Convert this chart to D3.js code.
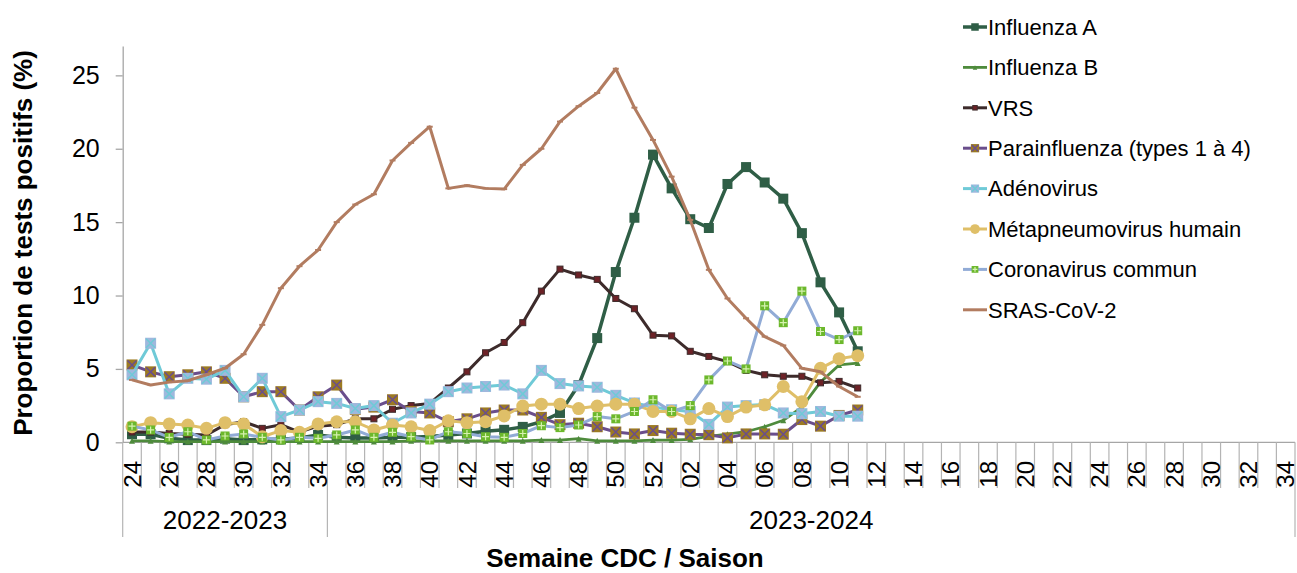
<!DOCTYPE html>
<html>
<head>
<meta charset="utf-8">
<script src="https://cdn.jsdelivr.net/npm/d3@7"></script>
<style>
	body { margin: 0; background: #fff; }
	svg { font-family: 'Liberation Sans', Arial, sans-serif; }
</style>
</head>
<body>
<div id="chart"></div>
<script>
// week labels per season
const weeks2223 = ['24', '25', '26', '27', '28', '29', '30', '31', '32', '33', '34']
const weeks2324 = ['35', '36', '37', '38', '39', '40', '41', '42', '43', '44', '45', '46', '47', '48', '49', '50', '51', '52',
	'01', '02', '03', '04', '05', '06', '07', '08', '09', '10', '11', '12', '13', '14', '15', '16', '17', '18', '19', '20',
	'21', '22', '23', '24', '25', '26', '27', '28', '29', '30', '31', '32', '33', '34']
const seasons = ['2022-2023', '2023-2024']
const yTicks = [0, 5, 10, 15, 20, 25]

// % positive, from week 24 (2022) to week 11 (2024)
const fluA = [0.55, 0.55, 0.27, 0.15, 0.15, 0.25, 0.15, 0.2, 0.2, 0.3, 0.5, 0.35, 0.3, 0.3, 0.35, 0.35, 0.4, 0.5, 0.6, 0.75,
	0.85, 1.05, 1.4, 2.0, 3.9, 7.1, 11.6, 15.3, 19.6, 17.3, 15.2, 14.6, 17.6, 18.75, 17.7, 16.6, 14.25, 10.9, 8.85, 6.2]
const fluB = [0.1, 0.1, 0.05, 0.05, 0.05, 0.05, 0.05, 0.05, 0.05, 0.05, 0.05, 0.05, 0.05, 0.05, 0.05, 0.1, 0.1, 0.1, 0.1, 0.1,
	0.1, 0.1, 0.15, 0.15, 0.25, 0.1, 0.1, 0.1, 0.15, 0.15, 0.2, 0.4, 0.55, 0.72, 1.06, 1.5, 2.4, 4.1, 5.27, 5.4]
const vrs = [0.7, 0.7, 0.6, 0.55, 0.5, 1.2, 1.4, 0.95, 1.2, 0.7, 1.1, 1.2, 1.6, 1.6, 2.25, 2.5, 2.65, 3.7, 4.8, 6.1,
	6.8, 8.15, 10.3, 11.8, 11.4, 11.1, 9.8, 9.1, 7.3, 7.25, 6.2, 5.85, 5.5, 4.9, 4.6, 4.5, 4.5, 4.05, 4.15, 3.7]
const para = [5.27, 4.8, 4.47, 4.6, 4.8, 4.36, 3.1, 3.45, 3.45, 2.2, 3.1, 3.9, 2.25, 2.4, 2.9, 2.1, 2.0, 1.4, 1.6, 2.0,
	2.2, 2.2, 1.7, 1.2, 1.3, 1.06, 0.7, 0.57, 0.8, 0.62, 0.55, 0.52, 0.3, 0.57, 0.57, 0.55, 1.55, 1.1, 1.83, 2.2]
const adeno = [4.6, 6.75, 3.3, 4.36, 4.3, 4.9, 3.1, 4.36, 1.75, 2.2, 2.77, 2.65, 2.3, 2.5, 1.3, 2.0, 2.6, 3.45, 3.7, 3.8,
	3.9, 3.3, 4.9, 4.0, 3.84, 3.75, 3.2, 2.68, 2.4, 2.22, 2.1, 1.22, 2.4, 2.5, 2.57, 2.0, 1.95, 2.1, 1.78, 1.78]
const hmpv = [1.06, 1.34, 1.25, 1.18, 0.95, 1.34, 1.25, 0.38, 0.8, 0.68, 1.25, 1.4, 1.4, 0.84, 1.18, 1.06, 0.8, 1.47, 1.34, 1.4,
	1.8, 2.47, 2.6, 2.6, 2.3, 2.47, 2.6, 2.6, 2.1, 2.1, 1.6, 2.3, 1.75, 2.4, 2.55, 3.8, 2.77, 5.04, 5.7, 5.9]
const cov = [1.1, 0.84, 0.34, 0.72, 0.16, 0.43, 0.57, 0.34, 0.16, 0.34, 0.27, 0.5, 0.84, 0.34, 0.68, 0.38, 0.16, 0.72, 0.6, 0.38,
	0.34, 0.6, 1.13, 1.0, 1.18, 1.75, 1.6, 2.1, 2.9, 2.1, 2.5, 4.25, 5.54, 5.0, 9.3, 8.15, 10.3, 7.55, 7.0, 7.6]
const sars = [4.25, 3.9, 4.1, 4.2, 4.6, 5.05, 6.0, 8.0, 10.5, 12.0, 13.1, 15.0, 16.2, 16.9, 19.2, 20.4, 21.5, 17.3, 17.5, 17.3,
	17.25, 18.9, 20.0, 21.85, 22.9, 23.8, 25.45, 22.8, 20.6, 18.1, 15.15, 11.75, 9.8, 8.45, 7.2, 6.6, 5.04, 4.8, 3.8, 3.1]

const seriesNames = ['Influenza A', 'Influenza B', 'VRS', 'Parainfluenza (types 1 à 4)', 'Adénovirus',
	'Métapneumovirus humain', 'Coronavirus commun', 'SRAS-CoV-2']
const seriesValues = [fluA, fluB, vrs, para, adeno, hmpv, cov, sars]

// line + marker styles, same order as the series
const styles = [
	{ line: '#2f5e46', width: 3.5, marker: 'square', size: 10, fill: '#2f5e46' },
	{ line: '#4e8b3c', width: 2.8, marker: 'triangle', size: 6, fill: '#4e8b3c' },
	{ line: '#3d2b2b', width: 3, marker: 'square', size: 6, fill: '#6d2227', stroke: '#3d2b2b' },
	{ line: '#6a4e8c', width: 3, marker: 'cross', size: 11, fill: '#9c7a22', mark: '#6a4e8c' },
	{ line: '#6fcad7', width: 3, marker: 'cross', size: 11, fill: '#9fb8dd', mark: '#6fcad7' },
	{ line: '#dfbf68', width: 3, marker: 'circle', size: 13, fill: '#dfbf68' },
	{ line: '#91abd6', width: 3, marker: 'plus', size: 9, fill: '#6cb82c', mark: '#d6f2b0' },
	{ line: '#b27c60', width: 3, marker: 'dash', size: 6, fill: '#b27c60' }
]

const width = 1297
const height = 573
const plotLeft = 122.7, plotRight = 1295, plotTop = 46, plotBottom = 442.3

const svg = d3.select('#chart').append('svg')
	.attr('width', width)
	.attr('height', height)

const categories = [
	...weeks2223.map(w => seasons[0] + '|' + w),
	...weeks2324.map(w => seasons[1] + '|' + w)
]

const x = d3.scaleBand().domain(categories).range([plotLeft, plotRight])
const y = d3.scaleLinear().domain([0, 27]).range([plotBottom, plotTop])
const cx = i => x(categories[i]) + x.bandwidth() / 2

// draw one marker centered at 0,0
function drawMarker(g, st, k) {
	const s = st.size * k
	if (st.marker == 'square' || st.marker == 'cross' || st.marker == 'plus') {
		g.append('rect')
			.attr('x', -s / 2).attr('y', -s / 2)
			.attr('width', s).attr('height', s)
			.attr('fill', st.fill)
			.attr('stroke', st.stroke || 'none')
			.attr('stroke-width', 1)
	}
	if (st.marker == 'cross') {
		const h = s / 2 - 1
		g.append('path')
			.attr('d', `M${-h},${-h}L${h},${h}M${-h},${h}L${h},${-h}`)
			.attr('stroke', st.mark).attr('stroke-width', 1.5)
	}
	if (st.marker == 'plus') {
		const h = s / 2 - 1
		g.append('path')
			.attr('d', `M${-h},0L${h},0M0,${-h}L0,${h}`)
			.attr('stroke', st.mark).attr('stroke-width', 1.2)
	}
	if (st.marker == 'circle') {
		g.append('circle').attr('r', s / 2).attr('fill', st.fill)
	}
	if (st.marker == 'triangle') {
		g.append('path')
			.attr('d', `M0,${-s / 2}L${s / 2},${s / 2}L${-s / 2},${s / 2}Z`)
			.attr('fill', st.fill)
	}
	if (st.marker == 'dash') {
		g.append('path')
			.attr('d', `M${-s / 2},0L${s / 2},0`)
			.attr('stroke', st.fill).attr('stroke-width', 2)
	}
}

// y axis
const yAxis = svg.append('g')
	.attr('transform', `translate(${plotLeft},0)`)
	.call(d3.axisLeft(y).tickValues(yTicks).tickSize(7).tickSizeOuter(0).tickPadding(16))
yAxis.select('.domain').attr('stroke', '#a6a6a6').attr('stroke-width', 1.3)
yAxis.selectAll('.tick line').attr('stroke', '#a6a6a6').attr('stroke-width', 1.3)
yAxis.selectAll('.tick text')
	.style('font-size', '25px')
	.style('font-family', 'Liberation Sans, Arial, sans-serif')
	.attr('fill', '#000')

// x axis line
svg.append('line')
	.attr('x1', plotLeft).attr('x2', plotRight)
	.attr('y1', plotBottom).attr('y2', plotBottom)
	.attr('stroke', '#a6a6a6').attr('stroke-width', 1.3)

// x tick separators: longer at season boundaries
const seasonStarts = [0, weeks2223.length, categories.length]
for (let i = 0; i <= categories.length; i++) {
	const xx = i < categories.length ? x(categories[i]) : plotRight
	svg.append('line')
		.attr('x1', xx).attr('x2', xx)
		.attr('y1', plotBottom).attr('y2', seasonStarts.includes(i) ? 537 : 488)
		.attr('stroke', '#b4b4b4').attr('stroke-width', 1.2)
}

// week labels, every other week
categories.forEach((c, i) => {
	if (i % 2) return
	svg.append('text')
		.attr('transform', `translate(${cx(i)},461) rotate(-90)`)
		.attr('text-anchor', 'end')
		.attr('dy', '0.36em')
		.style('font-size', '24px')
		.text(c.split('|')[1])
})

// season labels
seasons.forEach((s, k) => {
	const x0 = x(categories[seasonStarts[k]])
	const x1 = seasonStarts[k + 1] < categories.length ? x(categories[seasonStarts[k + 1]]) : plotRight
	svg.append('text')
		.attr('x', (x0 + x1) / 2)
		.attr('y', 529)
		.attr('text-anchor', 'middle')
		.style('font-size', '26px')
		.text(s)
})

// axis titles
svg.append('text')
	.attr('transform', 'translate(32,243) rotate(-90)')
	.attr('text-anchor', 'middle')
	.style('font-size', '26px')
	.style('font-weight', 'bold')
	.text('Proportion de tests positifs (%)')

svg.append('text')
	.attr('x', 625)
	.attr('y', 567)
	.attr('text-anchor', 'middle')
	.style('font-size', '26px')
	.style('font-weight', 'bold')
	.text('Semaine CDC / Saison')

// series lines and markers
const line = d3.line()
	.x((d, i) => cx(i))
	.y(d => y(d))

seriesValues.forEach((vals, k) => {
	const st = styles[k]
	const g = svg.append('g')
	g.append('path')
		.datum(vals)
		.attr('d', line)
		.attr('fill', 'none')
		.attr('stroke', st.line)
		.attr('stroke-width', st.width)
		.attr('stroke-linejoin', 'round')
	vals.forEach((v, i) => {
		const m = g.append('g').attr('transform', `translate(${cx(i)},${y(v)})`)
		drawMarker(m, st, 1)
	})
})

// legend
seriesNames.forEach((name, k) => {
	const st = styles[k]
	const g = svg.append('g')
		.attr('transform', `translate(963,${27 + k * 40.4})`)
	g.append('line')
		.attr('x1', 0).attr('x2', 24)
		.attr('stroke', st.line).attr('stroke-width', st.width)
	if (st.marker != 'dash') {
		const m = g.append('g').attr('transform', 'translate(12,0)')
		drawMarker(m, st, 0.75)
	}
	g.append('text')
		.attr('x', 25)
		.attr('dy', '0.35em')
		.style('font-size', '22px')
		.text(name)
})
</script>
</body>
</html>
